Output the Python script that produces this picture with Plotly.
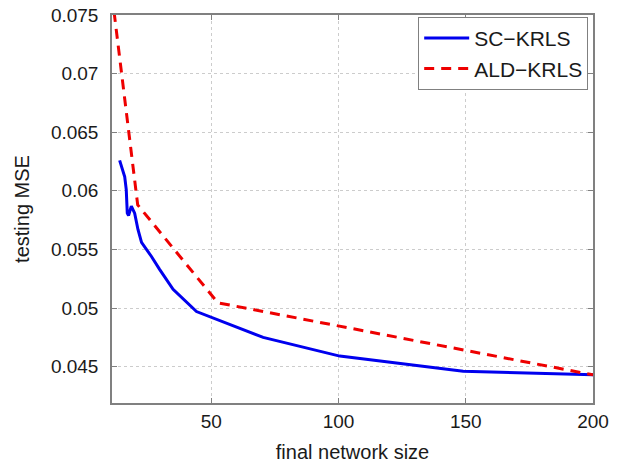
import plotly.graph_objects as go

# SC-KRLS
sc_x = [14.0, 16.0, 16.6, 17.0, 17.5, 18.6, 19.9, 21.2, 22.6, 26.5, 29.7, 35.0, 44.2, 62.5, 70.4, 100.5, 149.0, 200.0]
sc_y = [0.0626, 0.0612, 0.0601, 0.0581, 0.0579, 0.0587, 0.0581, 0.0567, 0.0556, 0.0544, 0.0533, 0.0516, 0.0497, 0.0482, 0.0475, 0.0459, 0.0446, 0.0443]

# ALD-KRLS
ald_x = [11.0, 21.1, 52.6, 200.0]
ald_y = [0.0767, 0.0588, 0.05045, 0.0443]

x_ticks = [50, 100, 150, 200]
y_ticks = [0.045, 0.05, 0.055, 0.06, 0.065, 0.07, 0.075]
y_tick_text = ["0.045", "0.05", "0.055", "0.06", "0.065", "0.07", "0.075"]

font = "Liberation Sans, Arial, Helvetica, sans-serif"

fig = go.Figure()
fig.add_trace(go.Scatter(x=sc_x, y=sc_y, mode="lines", name="SC\u2212KRLS",
                         line=dict(color="#0000ee", width=3)))
fig.add_trace(go.Scatter(x=ald_x, y=ald_y, mode="lines", name="ALD\u2212KRLS",
                         line=dict(color="#ee0000", width=3, dash="10px,7px")))

axis_common = dict(
    showline=True, linecolor="#808080", linewidth=1.5, mirror="ticks",
    ticks="inside", ticklen=5, tickcolor="#808080",
    showgrid=True, gridcolor="#cccccc", griddash="dot", gridwidth=1,
    zeroline=False, automargin=False,
    tickfont=dict(family=font, size=19, color="#1a1a1a"),
)

fig.update_xaxes(range=[11, 200], tickvals=x_ticks,
                 title=dict(text="final network size", font=dict(family=font, size=20, color="#1a1a1a"), standoff=20),
                 **axis_common)
fig.update_yaxes(range=[0.0419, 0.075], tickvals=y_ticks, ticktext=y_tick_text,
                 ticklabelstandoff=8,
                 title=dict(text="testing MSE", font=dict(family=font, size=20, color="#1a1a1a"), standoff=16),
                 **axis_common)

fig.update_layout(
    width=623, height=463,
    margin=dict(l=112, r=30, t=15, b=60),
    paper_bgcolor="white", plot_bgcolor="white",
    legend=dict(x=0.99, y=0.995, xanchor="right", yanchor="top",
                bordercolor="#808080", borderwidth=1, bgcolor="white",
                font=dict(family=font, size=21, color="#1a1a1a"),
                tracegroupgap=0, itemwidth=45),
    showlegend=True,
)

fig.write_html("out.html")
